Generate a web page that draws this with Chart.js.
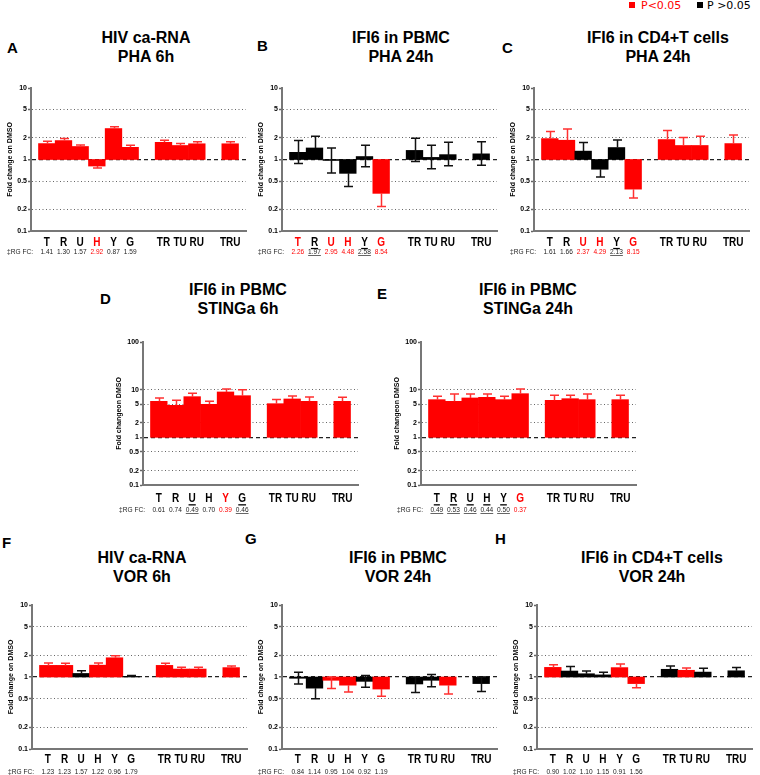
<!DOCTYPE html>
<html>
<head>
<meta charset="utf-8">
<script src="https://cdn.jsdelivr.net/npm/chart.js@4/dist/chart.umd.min.js"></script>
<style>
  body { margin: 0; width: 760px; height: 775px; position: relative; background: #fff; overflow: hidden;
         font-family: "Liberation Sans", Arial, sans-serif; }
  canvas { position: absolute; }
  .ttl { position: absolute; width: 240px; text-align: center; font-weight: bold; font-size: 16px; line-height: 18.5px; color: #000; }
  .let { position: absolute; font-weight: bold; font-size: 15px; line-height: 15px; color: #000; }
  .leg { position: absolute; top: 0; font-family: "DejaVu Sans", sans-serif; font-size: 11px; line-height: 11px; }
  .sq { position: absolute; top: 2px; width: 6px; height: 6px; }
</style>
</head>
<body>

<div class="sq" style="left:629px;background:#ff0000"></div>
<div class="leg" style="left:641px;color:#ff0000">P&lt;0.05</div>
<div class="sq" style="left:697px;background:#000"></div>
<div class="leg" style="left:707px;color:#000">P &gt;0.05</div>

<div class="let" style="left:7px;top:40px">A</div>
<div class="let" style="left:257px;top:38px">B</div>
<div class="let" style="left:502px;top:40px">C</div>
<div class="let" style="left:100px;top:291px">D</div>
<div class="let" style="left:377px;top:286px">E</div>
<div class="let" style="left:2px;top:535px">F</div>
<div class="let" style="left:245px;top:531px">G</div>
<div class="let" style="left:495px;top:531px">H</div>

<div class="ttl" style="left:26px;top:29px">HIV ca-RNA<br>PHA 6h</div>
<div class="ttl" style="left:281px;top:29px">IFI6 in PBMC<br>PHA 24h</div>
<div class="ttl" style="left:538px;top:29px">IFI6 in CD4+T cells<br>PHA 24h</div>
<div class="ttl" style="left:118px;top:281px">IFI6 in PBMC<br>STINGa 6h</div>
<div class="ttl" style="left:408px;top:281px">IFI6 in PBMC<br>STINGa 24h</div>
<div class="ttl" style="left:22px;top:549px">HIV ca-RNA<br>VOR 6h</div>
<div class="ttl" style="left:278px;top:549px">IFI6 in PBMC<br>VOR 24h</div>
<div class="ttl" style="left:532px;top:549px">IFI6 in CD4+T cells<br>VOR 24h</div>

<script>
// categories and their slot on the x axis (gaps at 6 and 10)
const categories = ['T', 'R', 'U', 'H', 'Y', 'G', 'TR', 'TU', 'RU', 'TRU'];
const slots = [0, 1, 2, 3, 4, 5, 7, 8, 9, 11];
const ticksTen = [0.1, 0.2, 0.5, 1, 2, 5, 10];
const ticksHundred = [0.1, 0.2, 0.5, 1, 2, 5, 10, 100];

// A - HIV ca-RNA PHA 6h
const valsA = [1.67, 1.84, 1.52, 0.81, 2.71, 1.48, 1.74, 1.57, 1.66, 1.66];
const hiA = [1.80, 1.96, 1.60, null, 2.88, 1.58, 1.86, 1.67, 1.77, 1.77];
const loA = [null, null, null, 0.76, null, null, null, null, null, null];
const sigA = [1, 1, 1, 1, 1, 1, 1, 1, 1, 1];
const markA = ['', '', '', 'r', '', ''];
const rgA = ['1.41', '1.30', '1.57', '2.92', '0.87', '1.59'];

// B - IFI6 in PBMC PHA 24h
const valsB = [1.26, 1.45, 0.97, 0.64, 1.10, 0.336, 1.34, 1.07, 1.17, 1.20];
const hiB = [1.84, 2.11, 1.45, null, 1.58, null, 1.98, 1.58, 1.74, 1.77];
const loB = [0.88, null, 0.65, 0.42, 0.79, 0.22, 0.94, 0.74, 0.82, 0.83];
const sigB = [0, 0, 0, 0, 0, 1, 0, 0, 0, 0];
const markB = ['r', 'u', 'r', 'r', 'u', 'r'];
const rgB = ['2.26', '1.97', '2.95', '4.48', '2.58', '8.54'];

// C - IFI6 in CD4+T cells PHA 24h
const valsC = [1.96, 1.86, 1.31, 0.73, 1.47, 0.385, 1.90, 1.57, 1.57, 1.67];
const hiC = [2.46, 2.68, 1.73, null, 1.88, null, 2.54, 2.03, 2.11, 2.21];
const loC = [null, null, null, 0.57, null, 0.29, null, null, null, null];
const sigC = [1, 1, 0, 0, 0, 1, 1, 1, 1, 1];
const markC = ['', '', 'r', 'r', 'u', 'r'];
const rgC = ['1.61', '1.66', '2.37', '4.29', '2.13', '8.15'];

// D - IFI6 in PBMC STINGa 6h
const valsD = [5.69, 4.69, 7.13, 4.92, 8.95, 7.48, 5.08, 6.38, 5.69, 5.69];
const hiD = [6.7, 5.97, 8.4, 5.69, 10.3, 10.0, 6.25, 7.4, 7.03, 6.9];
const loD = [null, null, null, null, null, null, null, null, null, null];
const sigD = [1, 1, 1, 1, 1, 1, 1, 1, 1, 1];
const markD = ['', '', 'u', '', 'r', 'u'];
const rgD = ['0.61', '0.74', '0.49', '0.70', '0.39', '0.46'];

// E - IFI6 in PBMC STINGa 24h
const valsE = [6.17, 5.69, 6.7, 6.9, 6.17, 8.24, 5.97, 6.47, 6.17, 6.17];
const hiE = [7.24, 8.1, 8.1, 8.1, 7.24, 10.3, 7.6, 7.6, 8.1, 7.6];
const loE = [null, null, null, null, null, null, null, null, null, null];
const sigE = [1, 1, 1, 1, 1, 1, 1, 1, 1, 1];
const markE = ['u', 'u', 'u', 'u', 'u', 'r'];
const rgE = ['0.49', '0.53', '0.46', '0.44', '0.50', '0.37'];

// F - HIV ca-RNA VOR 6h
const valsF = [1.45, 1.45, 1.12, 1.46, 1.85, 1.02, 1.45, 1.29, 1.29, 1.35];
const hiF = [1.56, 1.55, 1.22, 1.56, 1.98, 1.05, 1.55, 1.37, 1.37, 1.42];
const loF = [null, null, null, null, null, null, null, null, null, null];
const sigF = [1, 1, 0, 1, 1, 0, 1, 1, 1, 1];
const markF = ['', '', '', '', '', ''];
const rgF = ['1.23', '1.23', '1.57', '1.22', '0.96', '1.79'];

// G - IFI6 in PBMC VOR 24h
const valsG = [0.96, 0.70, 0.90, 0.77, 0.87, 0.68, 0.80, 0.90, 0.77, 0.81];
const hiG = [1.16, null, 1.0, null, 1.05, null, 1.0, 1.08, null, 1.0];
const loG = [0.80, 0.50, 0.69, 0.62, 0.72, 0.54, 0.61, 0.73, 0.58, 0.63];
const sigG = [0, 0, 1, 1, 0, 1, 0, 0, 1, 0];
const markG = ['', '', '', '', '', ''];
const rgG = ['0.84', '1.14', '0.95', '1.04', '0.92', '1.19'];

// H - IFI6 in CD4+T cells VOR 24h
const valsH = [1.36, 1.21, 1.11, 1.07, 1.35, 0.81, 1.28, 1.24, 1.17, 1.22];
const hiH = [1.48, 1.40, 1.21, 1.16, 1.52, null, 1.42, 1.33, 1.32, 1.36];
const loH = [null, null, null, null, null, 0.71, null, null, null, null];
const sigH = [1, 0, 0, 0, 1, 1, 0, 1, 0, 0];
const markH = ['', '', '', '', '', ''];
const rgH = ['0.90', '1.02', '1.10', '1.15', '0.91', '1.56'];

const red = '#ff0000';
const sans = '"Liberation Sans", Arial, sans-serif';
const yLab = 'Fold change on DMSO';

const panels = [
  {left: 0,   top: 80,  h: 181, max: 10,  yt: yLab, tp: 6, vals: valsA, hi: hiA, lo: loA, sig: sigA, mark: markA, rg: rgA, lab: 11.3, rgOff: 20.5},
  {left: 251, top: 80,  h: 181, max: 10,  yt: yLab, tp: 6, vals: valsB, hi: hiB, lo: loB, sig: sigB, mark: markB, rg: rgB, lab: 11.3, rgOff: 20.5},
  {left: 503, top: 80,  h: 181, max: 10,  yt: yLab, tp: 6, vals: valsC, hi: hiC, lo: loC, sig: sigC, mark: markC, rg: rgC, lab: 11.3, rgOff: 20.5},
  {left: 112, top: 334, h: 181, max: 100, yt: 'Fold changeon DMSO', tp: 3, vals: valsD, hi: hiD, lo: loD, sig: sigD, mark: markD, rg: rgD, lab: 13.6, rgOff: 24.5},
  {left: 390, top: 334, h: 181, max: 100, yt: 'Fold changeon DMSO', tp: 3, vals: valsE, hi: hiE, lo: loE, sig: sigE, mark: markE, rg: rgE, lab: 13.6, rgOff: 24.5},
  {left: 1,   top: 597, h: 182, max: 10,  yt: yLab, tp: 6, vals: valsF, hi: hiF, lo: loF, sig: sigF, mark: markF, rg: rgF, lab: 11, rgOff: 22.7},
  {left: 251, top: 597, h: 182, max: 10,  yt: yLab, tp: 6, vals: valsG, hi: hiG, lo: loG, sig: sigG, mark: markG, rg: rgG, lab: 11, rgOff: 22.7},
  {left: 506, top: 597, h: 182, max: 10,  yt: yLab, tp: 6, vals: valsH, hi: hiH, lo: loH, sig: sigH, mark: markH, rg: rgH, lab: 11, rgOff: 22.7}
];

// the figure uses a narrow face, fake it with a horizontal squeeze
function narrowText(ctx, t, x, y, k) {
  ctx.save();
  ctx.translate(x, y);
  ctx.scale(k, 1);
  ctx.fillText(t, 0, 0);
  ctx.restore();
  return ctx.measureText(t).width * k;
}

// error bars, category labels and the RG FC row
function extras(p) {
  return {
    id: 'extras',
    afterDatasetsDraw(chart) {
      const {ctx, scales: {x, y}} = chart;
      ctx.save();
      ctx.lineWidth = 1.5;
      p.vals.forEach((v, i) => {
        if (p.hi[i] == null && p.lo[i] == null) return;
        const px = Math.round(x.getPixelForValue(slots[i])) + 0.5;
        const y1 = y.getPixelForValue(p.hi[i] ?? v);
        const y2 = y.getPixelForValue(p.lo[i] ?? v);
        ctx.strokeStyle = p.sig[i] ? '#ff3030' : '#111';
        ctx.beginPath();
        ctx.moveTo(px, y1);
        ctx.lineTo(px, y2);
        if (p.hi[i] != null) { ctx.moveTo(px - 4.5, y1); ctx.lineTo(px + 4.5, y1); }
        if (p.lo[i] != null) { ctx.moveTo(px - 4.5, y2); ctx.lineTo(px + 4.5, y2); }
        ctx.stroke();
      });
      ctx.restore();
    },
    afterDraw(chart) {
      const {ctx, chartArea, scales: {x}} = chart;
      const base = chartArea.bottom;
      ctx.save();
      ctx.textBaseline = 'middle';
      ctx.textAlign = 'center';

      // category labels
      ctx.font = 'bold 12.5px ' + sans;
      const ly = base + p.lab;
      categories.forEach((c, i) => {
        const px = x.getPixelForValue(slots[i]);
        ctx.fillStyle = p.mark[i] === 'r' ? red : '#000';
        const w = narrowText(ctx, c, px, ly, 0.8);
        if (p.mark[i] === 'u') {
          ctx.fillStyle = '#000';
          ctx.fillRect(px - w / 2, ly + 5.6, w, 1.3);
        }
      });

      // RG FC row
      const ry = base + p.rgOff;
      ctx.font = '8px ' + sans;
      ctx.fillStyle = '#222';
      ctx.textAlign = 'right';
      narrowText(ctx, '\u2021RG FC:', chartArea.left + 2, ry, 0.82);
      ctx.textAlign = 'center';
      p.rg.forEach((t, i) => {
        const px = x.getPixelForValue(slots[i]);
        ctx.fillStyle = p.mark[i] === 'r' ? red : '#222';
        const w = narrowText(ctx, t, px, ry, 0.82);
        if (p.mark[i] === 'u') {
          ctx.fillStyle = '#555';
          ctx.fillRect(px - w / 2, ry + 3.6, w, 0.9);
        }
      });
      ctx.restore();
    }
  };
}

panels.forEach(p => {
  const cv = document.createElement('canvas');
  cv.width = 250;
  cv.height = p.h;
  cv.style.left = p.left + 'px';
  cv.style.top = p.top + 'px';
  document.body.appendChild(cv);
  const yt = p.max === 100 ? ticksHundred : ticksTen;

  new Chart(cv, {
    type: 'bar',
    data: {
      datasets: [{
        data: p.vals.map((v, i) => ({x: slots[i], y: [1, v]})),
        backgroundColor: p.sig.map(s => s ? red : '#000'),
        borderWidth: 0,
        barPercentage: 1,
        categoryPercentage: 1
      }]
    },
    options: {
      responsive: false,
      animation: false,
      devicePixelRatio: 1,
      layout: {padding: {top: 8, right: 4, left: 0, bottom: 0}},
      plugins: {legend: {display: false}, tooltip: {enabled: false}},
      scales: {
        x: {
          type: 'linear', min: -0.95, max: 11.95, offset: false,
          afterBuildTicks: s => { s.ticks = slots.map(v => ({value: v})); },
          afterFit: s => { s.height = 30; },
          grid: {display: false, drawTicks: false},
          border: {color: '#777', width: 2},
          ticks: {display: false}
        },
        y: {
          type: 'logarithmic', min: 0.1, max: p.max,
          afterBuildTicks: s => { s.ticks = yt.map(v => ({value: v})); },
          afterFit: s => { s.width = 31; },
          grid: {
            color: c => {
              const v = c.tick.value;
              if (v === 1) return '#222';
              if (v === 0.1 || v === p.max) return 'rgba(0,0,0,0)';
              return '#666';
            },
            lineWidth: c => c.tick.value === 1 ? 1.3 : 1,
            tickColor: '#666', tickLength: 3, tickWidth: 1.5
          },
          border: {
            color: '#777', width: 2,
            dash: c => c.tick ? (c.tick.value === 1 ? [4, 3] : [1, 2.5]) : []
          },
          ticks: {
            padding: 1, color: '#000',
            callback: v => String(v),
            font: {family: sans, size: 7, weight: 'bold'}
          },
          title: {
            display: true, text: p.yt, color: '#000',
            font: {family: sans, size: 7, weight: 'bold'},
            padding: {top: p.tp, bottom: 0}
          }
        }
      }
    },
    plugins: [extras(p)]
  });
});
</script>
</body>
</html>
